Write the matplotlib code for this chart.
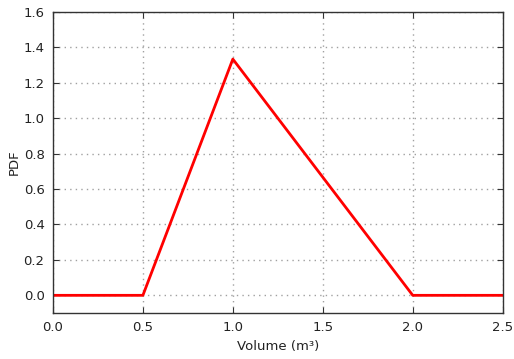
import matplotlib
matplotlib.use("Agg")
import matplotlib.pyplot as plt

# triangular PDF breakpoints
volume = [0.0, 0.5, 1.0, 2.0, 2.5]
pdf = [0.0, 0.0, 1.3333, 0.0, 0.0]

x_ticks = [0.0, 0.5, 1.0, 1.5, 2.0, 2.5]
y_ticks = [0.0, 0.2, 0.4, 0.6, 0.8, 1.0, 1.2, 1.4, 1.6]

fig = plt.figure(figsize=(5.14, 3.59), dpi=100)
ax = fig.add_axes([0.103, 0.128, 0.875, 0.839])

ax.plot(volume, pdf, color="red", linewidth=2.0)

ax.set_xlim(0.0, 2.5)
ax.set_ylim(-0.1, 1.6)
ax.set_xticks(x_ticks)
ax.set_yticks(y_ticks)
ax.set_xticklabels([f"{v:.1f}" for v in x_ticks])
ax.set_yticklabels([f"{v:.1f}" for v in y_ticks])
ax.tick_params(direction="in", top=True, right=True, length=4,
               labelsize=9.5, pad=6, color="#333333", labelcolor="#222222")
ax.grid(True, linestyle=(0, (1, 3)), color="#a0a0a0", linewidth=1.0)

for sp in ax.spines.values():
    sp.set_color("#333333")
    sp.set_linewidth(1.0)

ax.set_xlabel("Volume (m³)", fontsize=9.5, color="#222222")
ax.set_ylabel("PDF", fontsize=9.5, color="#222222", labelpad=2)

fig.savefig("out.png", dpi=100)
